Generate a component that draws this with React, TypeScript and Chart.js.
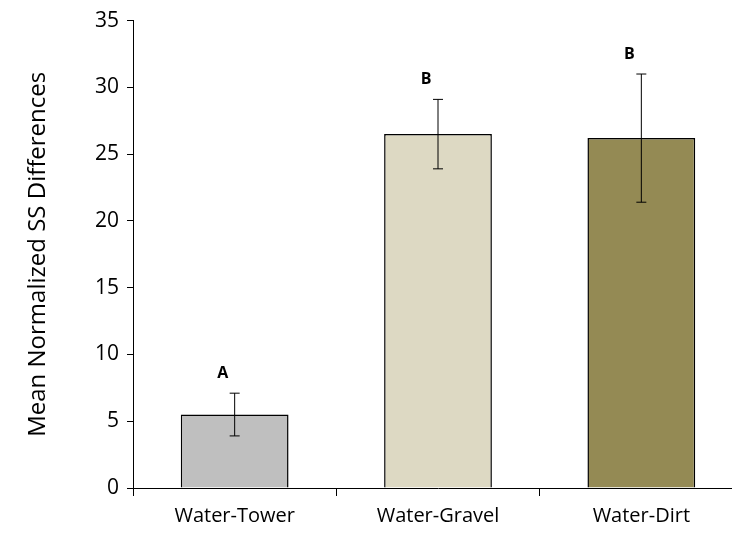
import { useEffect, useRef } from 'react';
import { Chart, registerables } from 'chart.js';

Chart.register(...registerables);

const categories = ['Water-Tower', 'Water-Gravel', 'Water-Dirt'];
const means = [5.5, 26.5, 26.2];
const errLow = [3.9, 23.9, 21.4];
const errHigh = [7.1, 29.1, 31.0];
const letters = ['A', 'B', 'B'];
const barColors = ['#bfbfbf', '#ddd9c3', '#948a54'];

const FONT = '"Open Sans", "Liberation Sans", sans-serif';

const errorPlugin = {
  id: 'errorBars',
  afterDatasetsDraw(chart: Chart) {
    const ctx = chart.ctx;
    const meta = chart.getDatasetMeta(0);
    const y = chart.scales.y;
    ctx.save();
    ctx.strokeStyle = '#000';
    ctx.lineWidth = 1;
    meta.data.forEach((bar, i) => {
      const x = bar.x;
      const yl = y.getPixelForValue(errLow[i]);
      const yh = y.getPixelForValue(errHigh[i]);
      ctx.beginPath();
      ctx.moveTo(x, yl);
      ctx.lineTo(x, yh);
      ctx.moveTo(x - 5, yl);
      ctx.lineTo(x + 5, yl);
      ctx.moveTo(x - 5, yh);
      ctx.lineTo(x + 5, yh);
      ctx.stroke();
      ctx.fillStyle = '#000';
      ctx.font = `bold 16px ${FONT}`;
      ctx.textAlign = 'center';
      ctx.textBaseline = 'bottom';
      ctx.fillText(letters[i], x - 12, yh - 12);
    });
    ctx.restore();
  },
};

export default function App() {
  const canvasRef = useRef<HTMLCanvasElement | null>(null);

  useEffect(() => {
    if (!canvasRef.current) return;
    const chart = new Chart(canvasRef.current, {
      type: 'bar',
      data: {
        labels: categories,
        datasets: [
          {
            data: means,
            backgroundColor: barColors,
            borderColor: '#000',
            borderWidth: 1.5,
            barPercentage: 0.53,
            categoryPercentage: 1,
          },
        ],
      },
      options: {
        animation: false,
        responsive: false,
        layout: { padding: { top: 15, right: 7, left: 20, bottom: 0 } },
        scales: {
          x: {
            grid: { offset: true, drawOnChartArea: false, color: '#000', tickLength: 8 },
            border: { color: '#000' },
            ticks: { color: '#000', font: { size: 20, family: FONT }, padding: 8 },
            afterFit: (s: any) => { s.height = 51; },
          },
          y: {
            min: 0,
            max: 35,
            ticks: { stepSize: 5, color: '#000', font: { size: 21, family: FONT }, padding: 8 },
            grid: { drawOnChartArea: false, color: '#000', tickLength: 6 },
            border: { color: '#000' },
            title: {
              display: true,
              text: 'Mean Normalized SS Differences',
              color: '#000',
              font: { size: 24, family: FONT },
            },
            afterFit: (s: any) => { s.width = 113; },
          },
        },
        plugins: { legend: { display: false }, tooltip: { enabled: false } },
      },
      plugins: [errorPlugin],
    });
    return () => chart.destroy();
  }, []);

  return (
    <div style={{ position: 'fixed', left: 0, top: 0, background: '#fff' }}>
      <canvas ref={canvasRef} width={750} height={539} />
    </div>
  );
}
